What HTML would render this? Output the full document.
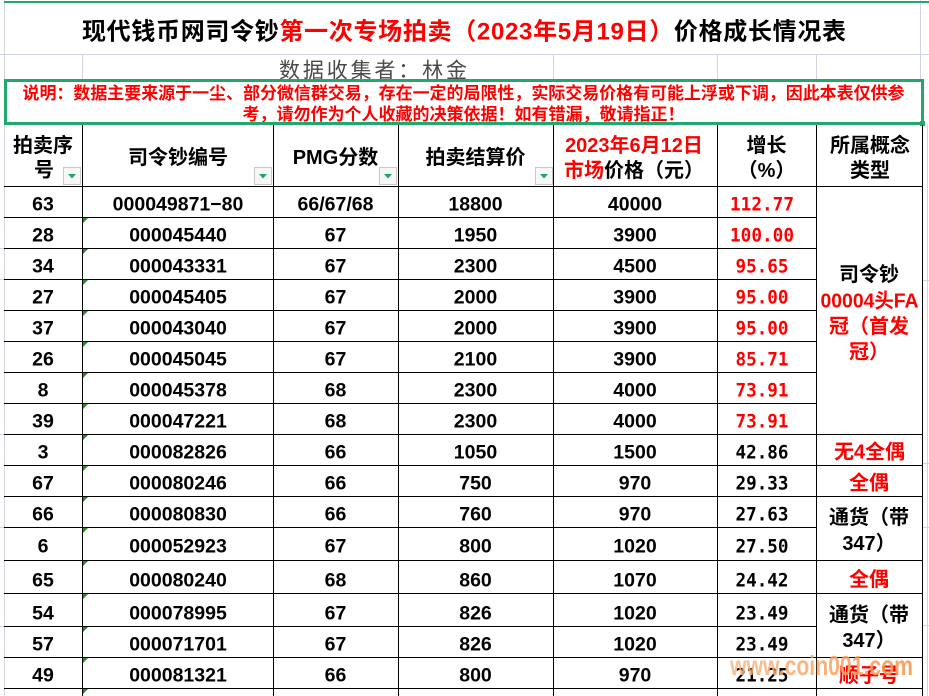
<!DOCTYPE html>
<html><head><meta charset="utf-8">
<style>
html,body{margin:0;padding:0;background:#fff;}
svg{display:block;}
text{font-family:"Liberation Sans","Noto Sans CJK SC",sans-serif;}
.h{font-size:20px;font-weight:bold;fill:#000;text-anchor:middle;}
.d{font-size:19.5px;font-weight:bold;fill:#000;text-anchor:middle;}
.g{font-family:"DejaVu Sans Mono","Liberation Mono",monospace;font-size:19px;text-anchor:middle;}
.gr{fill:#ff0000;font-weight:bold;}
.gb{fill:#000;font-weight:bold;}
.c7{font-size:20px;font-weight:bold;text-anchor:middle;}
.red{fill:#ff0000;}
</style></head>
<body>
<svg width="929" height="696" viewBox="0 0 929 696" xmlns="http://www.w3.org/2000/svg">
<defs>
<linearGradient id="wm" x1="0" y1="0" x2="1" y2="0">
<stop offset="0" stop-color="#fbb884"/>
<stop offset="1" stop-color="#f5944a"/>
</linearGradient>
</defs>
<rect width="929" height="696" fill="#fff"/>
<!-- light gridlines -->
<g stroke="#d0d5e0" stroke-width="1">
<line x1="4.5" y1="0" x2="4.5" y2="696"/>
<line x1="0" y1="54.5" x2="929" y2="54.5"/>
<line x1="82.5" y1="54" x2="82.5" y2="80"/>
<line x1="553.5" y1="54" x2="553.5" y2="80"/>
<line x1="717.5" y1="54" x2="717.5" y2="80"/>
<line x1="816.5" y1="54" x2="816.5" y2="80"/>
<line x1="920.5" y1="0" x2="920.5" y2="80"/>
<line x1="927.5" y1="125" x2="927.5" y2="696"/>
<line x1="922" y1="280.5" x2="929" y2="280.5"/>
<line x1="922" y1="463.5" x2="929" y2="463.5"/>
<line x1="922" y1="527.5" x2="929" y2="527.5"/>
<line x1="922" y1="625.5" x2="929" y2="625.5"/>
<line x1="0" y1="248.5" x2="4" y2="248.5"/>
<line x1="0" y1="279.5" x2="4" y2="279.5"/>
<line x1="0" y1="434.5" x2="4" y2="434.5"/>
<line x1="0" y1="527.5" x2="4" y2="527.5"/>
<line x1="0" y1="626.5" x2="4" y2="626.5"/>
</g>
<!-- top green line -->
<rect x="4" y="1" width="925" height="2" fill="#22a86d"/>
<!-- Title -->
<text x="82" y="39.5" font-size="24" font-weight="bold" fill="#000" textLength="764" lengthAdjust="spacing">现代钱币网司令钞<tspan fill="#ff0000">第一次专场拍卖（2023年5月19日）</tspan>价格成长情况表</text>
<!-- collector -->
<text x="279" y="77.5" font-size="21" fill="#4a4a4a" textLength="188" lengthAdjust="spacing">数据收集者：林金</text>
<!-- note box -->
<rect x="4" y="79" width="920" height="46" fill="#fff"/>
<text x="22.5" y="99" font-size="17" font-weight="bold" fill="#ff0000" textLength="882" lengthAdjust="spacing">说明：数据主要来源于一尘、部分微信群交易，存在一定的局限性，实际交易价格有可能上浮或下调，因此本表仅供参</text>
<text x="242.5" y="120" font-size="17" font-weight="bold" fill="#ff0000" textLength="442" lengthAdjust="spacing">考，请勿作为个人收藏的决策依据！如有错漏，敬请指正！</text>
<rect x="5.5" y="80.5" width="917" height="43" fill="none" stroke="#22a86d" stroke-width="3"/>
<rect x="920" y="121" width="5" height="5" fill="#22a86d"/>

<!-- Table lines -->
<g stroke="#000" stroke-width="1">
<line x1="82.5" y1="125" x2="82.5" y2="696"/>
<line x1="273.5" y1="125" x2="273.5" y2="696"/>
<line x1="398.5" y1="125" x2="398.5" y2="696"/>
<line x1="553.5" y1="125" x2="553.5" y2="696"/>
<line x1="717.5" y1="125" x2="717.5" y2="696"/>
<line x1="816.5" y1="125" x2="816.5" y2="696"/>
<line x1="922.5" y1="125" x2="922.5" y2="696"/>
<line x1="4" y1="186.5" x2="923" y2="186.5"/>
<line x1="4" y1="217.5" x2="817" y2="217.5"/>
<line x1="4" y1="248.5" x2="817" y2="248.5"/>
<line x1="4" y1="279.5" x2="817" y2="279.5"/>
<line x1="4" y1="310.5" x2="817" y2="310.5"/>
<line x1="4" y1="341.5" x2="817" y2="341.5"/>
<line x1="4" y1="372.5" x2="817" y2="372.5"/>
<line x1="4" y1="403.5" x2="817" y2="403.5"/>
<line x1="4" y1="434.5" x2="923" y2="434.5"/>
<line x1="4" y1="465.5" x2="923" y2="465.5"/>
<line x1="4" y1="496.5" x2="923" y2="496.5"/>
<line x1="4" y1="527.5" x2="817" y2="527.5"/>
<line x1="4" y1="560.5" x2="923" y2="560.5"/>
<line x1="4" y1="593.5" x2="923" y2="593.5"/>
<line x1="4" y1="626.5" x2="817" y2="626.5"/>
<line x1="4" y1="657.5" x2="923" y2="657.5"/>
<line x1="4" y1="688.5" x2="923" y2="688.5"/>
</g>

<!-- Header -->
<text class="h" x="43" y="152">拍卖序</text>
<text class="h" x="44" y="176.5">号</text>
<text class="h" x="178" y="164">司令钞编号</text>
<text class="h" x="335.5" y="164">PMG分数</text>
<text class="h" x="475.5" y="164">拍卖结算价</text>
<text class="h red" x="634" y="152">2023年6月12日</text>
<text class="h" x="634" y="177"><tspan fill="#ff0000">市场</tspan>价格（元）</text>
<text class="h" x="766.5" y="152">增长</text>
<text class="h" x="766.5" y="177">（%）</text>
<text class="h" x="870" y="152">所属概念</text>
<text class="h" x="870" y="177">类型</text>

<!-- filter buttons -->
<g>
<rect x="63.5" y="167.5" width="17" height="17" fill="#f7f7f7" stroke="#c9c9c9"/>
<polygon points="68,174 76,174 72,178.5" fill="#1fa463"/>
<rect x="254.5" y="167.5" width="17" height="17" fill="#f7f7f7" stroke="#c9c9c9"/>
<polygon points="259,174 267,174 263,178.5" fill="#1fa463"/>
<rect x="379.5" y="167.5" width="17" height="17" fill="#f7f7f7" stroke="#c9c9c9"/>
<polygon points="384,174 392,174 388,178.5" fill="#1fa463"/>
<rect x="535.5" y="167.5" width="17" height="17" fill="#f7f7f7" stroke="#c9c9c9"/>
<polygon points="540,174 548,174 544,178.5" fill="#1fa463"/>
</g>

<!-- green text-number markers -->
<g fill="#2a8a2a">
<polygon points="83,218 88,218 83,223"/>
<polygon points="83,249 88,249 83,254"/>
<polygon points="83,280 88,280 83,285"/>
<polygon points="83,311 88,311 83,316"/>
<polygon points="83,342 88,342 83,347"/>
<polygon points="83,373 88,373 83,378"/>
<polygon points="83,404 88,404 83,409"/>
<polygon points="83,435 88,435 83,440"/>
<polygon points="83,466 88,466 83,471"/>
<polygon points="83,497 88,497 83,502"/>
<polygon points="83,528 88,528 83,533"/>
<polygon points="83,561 88,561 83,566"/>
<polygon points="83,594 88,594 83,599"/>
<polygon points="83,627 88,627 83,632"/>
<polygon points="83,658 88,658 83,663"/>
<polygon points="83,689 88,689 83,694"/>
</g>

<!-- Data rows -->
<g>
<text class="d" x="43" y="210.5">63</text><text class="d" x="178" y="210.5">000049871−80</text><text class="d" x="335.5" y="210.5">66/67/68</text><text class="d" x="475.5" y="210.5">18800</text><text class="d" x="635" y="210.5">40000</text><text class="g gr" x="762" y="210.5" textLength="64" lengthAdjust="spacingAndGlyphs">112.77</text>
<text class="d" x="43" y="241.5">28</text><text class="d" x="178" y="241.5">000045440</text><text class="d" x="335.5" y="241.5">67</text><text class="d" x="475.5" y="241.5">1950</text><text class="d" x="635" y="241.5">3900</text><text class="g gr" x="762" y="241.5" textLength="64" lengthAdjust="spacingAndGlyphs">100.00</text>
<text class="d" x="43" y="272.5">34</text><text class="d" x="178" y="272.5">000043331</text><text class="d" x="335.5" y="272.5">67</text><text class="d" x="475.5" y="272.5">2300</text><text class="d" x="635" y="272.5">4500</text><text class="g gr" x="762" y="272.5" textLength="53" lengthAdjust="spacingAndGlyphs">95.65</text>
<text class="d" x="43" y="303.5">27</text><text class="d" x="178" y="303.5">000045405</text><text class="d" x="335.5" y="303.5">67</text><text class="d" x="475.5" y="303.5">2000</text><text class="d" x="635" y="303.5">3900</text><text class="g gr" x="762" y="303.5" textLength="53" lengthAdjust="spacingAndGlyphs">95.00</text>
<text class="d" x="43" y="334.5">37</text><text class="d" x="178" y="334.5">000043040</text><text class="d" x="335.5" y="334.5">67</text><text class="d" x="475.5" y="334.5">2000</text><text class="d" x="635" y="334.5">3900</text><text class="g gr" x="762" y="334.5" textLength="53" lengthAdjust="spacingAndGlyphs">95.00</text>
<text class="d" x="43" y="365.5">26</text><text class="d" x="178" y="365.5">000045045</text><text class="d" x="335.5" y="365.5">67</text><text class="d" x="475.5" y="365.5">2100</text><text class="d" x="635" y="365.5">3900</text><text class="g gr" x="762" y="365.5" textLength="53" lengthAdjust="spacingAndGlyphs">85.71</text>
<text class="d" x="43" y="396.5">8</text><text class="d" x="178" y="396.5">000045378</text><text class="d" x="335.5" y="396.5">68</text><text class="d" x="475.5" y="396.5">2300</text><text class="d" x="635" y="396.5">4000</text><text class="g gr" x="762" y="396.5" textLength="53" lengthAdjust="spacingAndGlyphs">73.91</text>
<text class="d" x="43" y="427.5">39</text><text class="d" x="178" y="427.5">000047221</text><text class="d" x="335.5" y="427.5">68</text><text class="d" x="475.5" y="427.5">2300</text><text class="d" x="635" y="427.5">4000</text><text class="g gr" x="762" y="427.5" textLength="53" lengthAdjust="spacingAndGlyphs">73.91</text>
<text class="d" x="43" y="458.5">3</text><text class="d" x="178" y="458.5">000082826</text><text class="d" x="335.5" y="458.5">66</text><text class="d" x="475.5" y="458.5">1050</text><text class="d" x="635" y="458.5">1500</text><text class="g gb" x="762" y="458.5" textLength="53" lengthAdjust="spacingAndGlyphs">42.86</text>
<text class="d" x="43" y="489.5">67</text><text class="d" x="178" y="489.5">000080246</text><text class="d" x="335.5" y="489.5">66</text><text class="d" x="475.5" y="489.5">750</text><text class="d" x="635" y="489.5">970</text><text class="g gb" x="762" y="489.5" textLength="53" lengthAdjust="spacingAndGlyphs">29.33</text>
<text class="d" x="43" y="520.5">66</text><text class="d" x="178" y="520.5">000080830</text><text class="d" x="335.5" y="520.5">66</text><text class="d" x="475.5" y="520.5">760</text><text class="d" x="635" y="520.5">970</text><text class="g gb" x="762" y="520.5" textLength="53" lengthAdjust="spacingAndGlyphs">27.63</text>
<text class="d" x="43" y="552.5">6</text><text class="d" x="178" y="552.5">000052923</text><text class="d" x="335.5" y="552.5">67</text><text class="d" x="475.5" y="552.5">800</text><text class="d" x="635" y="552.5">1020</text><text class="g gb" x="762" y="552.5" textLength="53" lengthAdjust="spacingAndGlyphs">27.50</text>
<text class="d" x="43" y="586.5">65</text><text class="d" x="178" y="586.5">000080240</text><text class="d" x="335.5" y="586.5">68</text><text class="d" x="475.5" y="586.5">860</text><text class="d" x="635" y="586.5">1070</text><text class="g gb" x="762" y="586.5" textLength="53" lengthAdjust="spacingAndGlyphs">24.42</text>
<text class="d" x="43" y="619.5">54</text><text class="d" x="178" y="619.5">000078995</text><text class="d" x="335.5" y="619.5">67</text><text class="d" x="475.5" y="619.5">826</text><text class="d" x="635" y="619.5">1020</text><text class="g gb" x="762" y="619.5" textLength="53" lengthAdjust="spacingAndGlyphs">23.49</text>
<text class="d" x="43" y="650.5">57</text><text class="d" x="178" y="650.5">000071701</text><text class="d" x="335.5" y="650.5">67</text><text class="d" x="475.5" y="650.5">826</text><text class="d" x="635" y="650.5">1020</text><text class="g gb" x="762" y="650.5" textLength="53" lengthAdjust="spacingAndGlyphs">23.49</text>
<text class="d" x="43" y="681.5">49</text><text class="d" x="178" y="681.5">000081321</text><text class="d" x="335.5" y="681.5">66</text><text class="d" x="475.5" y="681.5">800</text><text class="d" x="635" y="681.5">970</text><text class="g gb" x="762" y="681.5" textLength="53" lengthAdjust="spacingAndGlyphs">21.25</text>
</g>

<!-- Column 7 merged cells -->
<g>
<text class="c7" x="869" y="281">司令钞</text>
<text class="c7 red" x="869.5" y="307.5" textLength="98" lengthAdjust="spacingAndGlyphs">00004头FA</text>
<text class="c7 red" x="869" y="333">冠（首发</text>
<text class="c7 red" x="869" y="358.5">冠）</text>
<text class="c7 red" x="869.5" y="458.5">无4全偶</text>
<text class="c7 red" x="869" y="489.5">全偶</text>
<text class="c7" x="869" y="524">通货（带</text>
<text class="c7" x="869" y="550">347）</text>
<text class="c7 red" x="869" y="586">全偶</text>
<text class="c7" x="869" y="621.5">通货（带</text>
<text class="c7" x="869" y="647">347）</text>
<text class="c7 red" x="869" y="682">顺子号</text>
</g>

<!-- watermark -->
<text x="730" y="675" font-size="28" font-weight="bold" fill="url(#wm)" opacity="0.85" textLength="183" lengthAdjust="spacingAndGlyphs">www.coin001.com</text>
</svg>
</body></html>
